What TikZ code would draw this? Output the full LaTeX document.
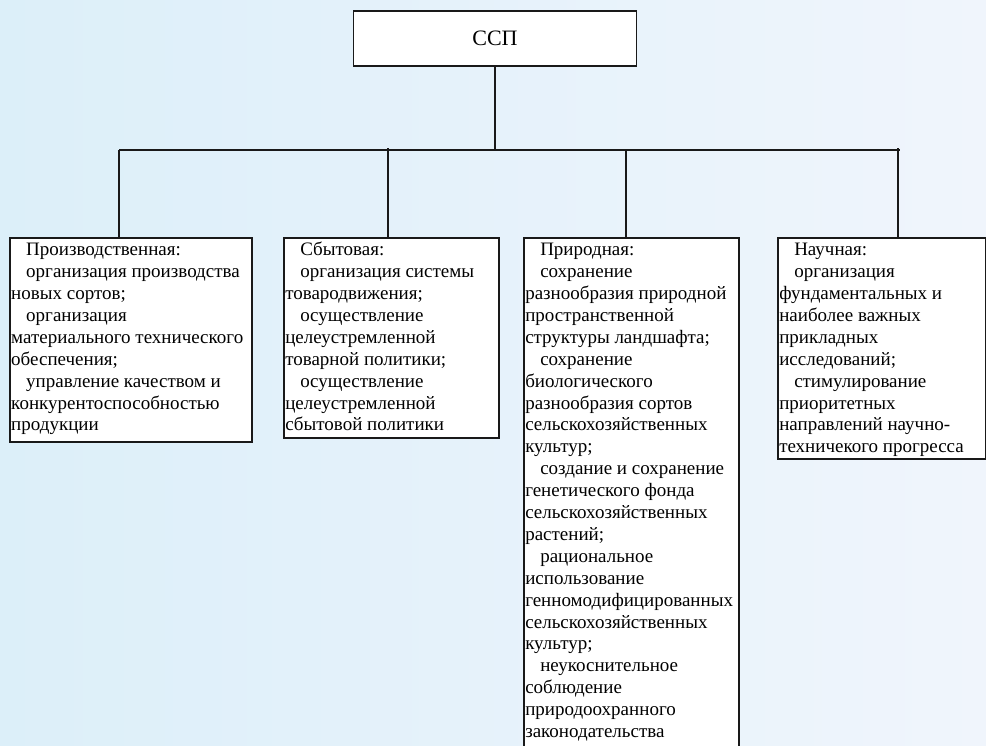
\documentclass[tikz,border=0pt]{standalone}
\usepackage{fontspec}
\setmainfont{Liberation Serif}
\newcommand{\recuo}{\hspace*{15pt}}

\begin{document}
\begin{tikzpicture}[x=1pt, y=-1pt,
    caixa/.style={draw=linecol, line width=1.5pt, fill=white, inner xsep=1.5pt, inner ysep=0pt,
                  anchor=north west, font=\fontsize{19pt}{21.9pt}\selectfont},
    topo/.style={draw=linecol, line width=1.5pt, fill=white, minimum width=283pt,
                 minimum height=55pt, font=\fontsize{22pt}{26pt}\selectfont},
    liga/.style={draw=linecol, line width=1.5pt}]

            % Definindo cores
            \definecolor{fundoesq}{RGB}{220, 239, 249} % azul do fundo
            \definecolor{fundodir}{RGB}{240, 245, 252} % fundo claro
            \definecolor{linecol}{RGB}{25, 25, 25}     % linhas

            % 1. Fundo
            \fill[left color=fundoesq, right color=fundodir] (0,0) rectangle (986,745);
            \useasboundingbox (0,0) rectangle (986,745);

            % 2. Caixa superior
            \node[topo] (ssp) at (495,38.5) {ССП};

            % 3. Caixas de baixo
            \node[caixa] (prod) at (9,237) {\parbox[t][204pt][t]{239pt}{\rule{0pt}{18pt}%
                \recuo Производственная:\\
                \recuo организация производства\\
                новых сортов;\\
                \recuo организация\\
                материального технического\\
                обеспечения;\\
                \recuo управление качеством и\\
                конкурентоспособностью\\
                продукции}};
            \node[caixa] (sbyt) at (283,237) {\parbox[t][200pt][t]{212pt}{\rule{0pt}{18pt}%
                \recuo Сбытовая:\\
                \recuo организация системы\\
                товародвижения;\\
                \recuo осуществление\\
                целеустремленной\\
                товарной политики;\\
                \recuo осуществление\\
                целеустремленной\\
                сбытовой политики}};
            \node[caixa] (prir) at (523,237) {\parbox[t][520pt][t]{212pt}{\rule{0pt}{18pt}%
                \recuo Природная:\\
                \recuo сохранение\\
                разнообразия природной\\
                пространственной\\
                структуры ландшафта;\\
                \recuo сохранение\\
                биологического\\
                разнообразия сортов\\
                сельскохозяйственных\\
                культур;\\
                \recuo создание и сохранение\\
                генетического фонда\\
                сельскохозяйственных\\
                растений;\\
                \recuo рациональное\\
                использование\\
                генномодифицированных\\
                сельскохозяйственных\\
                культур;\\
                \recuo неукоснительное\\
                соблюдение\\
                природоохранного\\
                законодательства}};
            \node[caixa] (nauch) at (777,237) {\parbox[t][221pt][t]{205pt}{\rule{0pt}{18pt}%
                \recuo Научная:\\
                \recuo организация\\
                фундаментальных и\\
                наиболее важных\\
                прикладных\\
                исследований;\\
                \recuo стимулирование\\
                приоритетных\\
                направлений научно-\\
                техничекого прогресса}};

            % 4. Ligacoes
            \coordinate (j1) at (119,150);
            \coordinate (j2) at (388,150);
            \coordinate (j3) at (626,150);
            \coordinate (j4) at (898,150);
            \draw[liga] (ssp.south) -- (ssp.south |- j1);
            \draw[liga] (j1) -- ([xshift=1.5pt]j4);
            \draw[liga] (j1) -- (j1 |- prod.north);
            \draw[liga] ([yshift=2pt]j2) -- (j2 |- sbyt.north);
            \draw[liga] (j3) -- (j3 |- prir.north);
            \draw[liga] ([yshift=2pt]j4) -- (j4 |- nauch.north);

            \end{tikzpicture}
\end{document}
